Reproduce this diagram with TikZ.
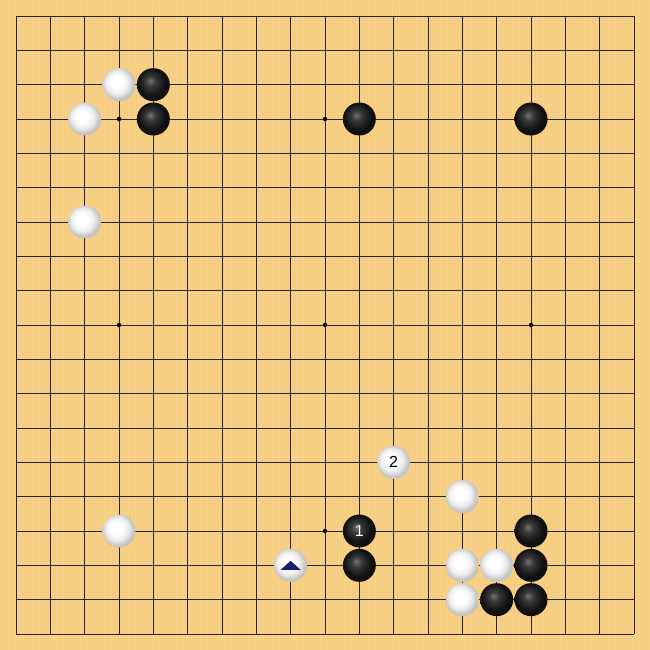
\documentclass[tikz,border=0pt]{standalone}
\usepackage{fontspec}
\setmainfont{Liberation Sans}
\definecolor{boardbg}{RGB}{248,208,134}
\definecolor{streak}{RGB}{242,198,122}
\definecolor{trinavy}{RGB}{20,30,110}
\pgfdeclareradialshading{wball}{\pgfpoint{-5bp}{5bp}}{color(0bp)=(white); color(9bp)=(white); color(17bp)=(black!7); color(24bp)=(black!22); color(50bp)=(black!40)}
\pgfdeclareradialshading{bball}{\pgfpoint{-5bp}{6bp}}{color(0bp)=(black!55); color(8bp)=(black!78); color(20bp)=(black!93); color(50bp)=(black)}
\begin{document}
\begin{tikzpicture}[x=1pt,y=-1pt,
  gridline/.style={line width=0.9pt,black!85},
  star/.style={circle,fill=black,inner sep=0pt,minimum size=4.5pt},
  wstone/.style={circle,inner sep=0pt,minimum size=33pt,shading=wball},
  bstone/.style={circle,inner sep=0pt,minimum size=33pt,shading=bball},
  numlabel/.style={font=\fontsize{16}{16}\selectfont,inner sep=0pt}]
\def\sp{34.333}
\fill[boardbg] (0,0) rectangle (650,650);
\useasboundingbox (0,0) rectangle (650,650);
\foreach \k in {0,...,216}{
  \pgfmathsetmacro{\xx}{\k*3+1}
  \draw[streak,line width=0.5pt,opacity=0.5] (\xx,0) -- (\xx,650);
}
\foreach \i in {0,...,18}{
  \draw[gridline] ({16+\i*\sp},16) -- ({16+\i*\sp},634);
  \draw[gridline] (16,{16+\i*\sp}) -- (634,{16+\i*\sp});
}
\foreach \a/\b [count=\n] in {3/3,9/3,15/3,3/9,9/9,15/9,3/15,9/15,15/15}{
  \node[star] (s\n) at ({16+\a*\sp},{16+\b*\sp}) {};
}
\foreach \a/\b [count=\n] in {3/2,2/3,2/6,11/13,13/14,3/15,8/16,13/16,14/16,13/17}{
  \node[wstone] (w\n) at ({16+\a*\sp},{16+\b*\sp}) {};
}
\foreach \a/\b [count=\n] in {4/2,4/3,10/3,15/3,10/15,15/15,10/16,15/16,15/17,14/17}{
  \node[bstone] (b\n) at ({16+\a*\sp},{16+\b*\sp}) {};
}
\node[numlabel,text=white] (one) at (b5) {1};
\node[numlabel,text=black] (two) at (w4) {2};
\fill[trinavy] ([xshift=-10pt,yshift=-4.5pt]w7.center) -- ([xshift=10pt,yshift=-4.5pt]w7.center) -- ([yshift=4.5pt]w7.center) -- cycle;
\end{tikzpicture}
\end{document}
